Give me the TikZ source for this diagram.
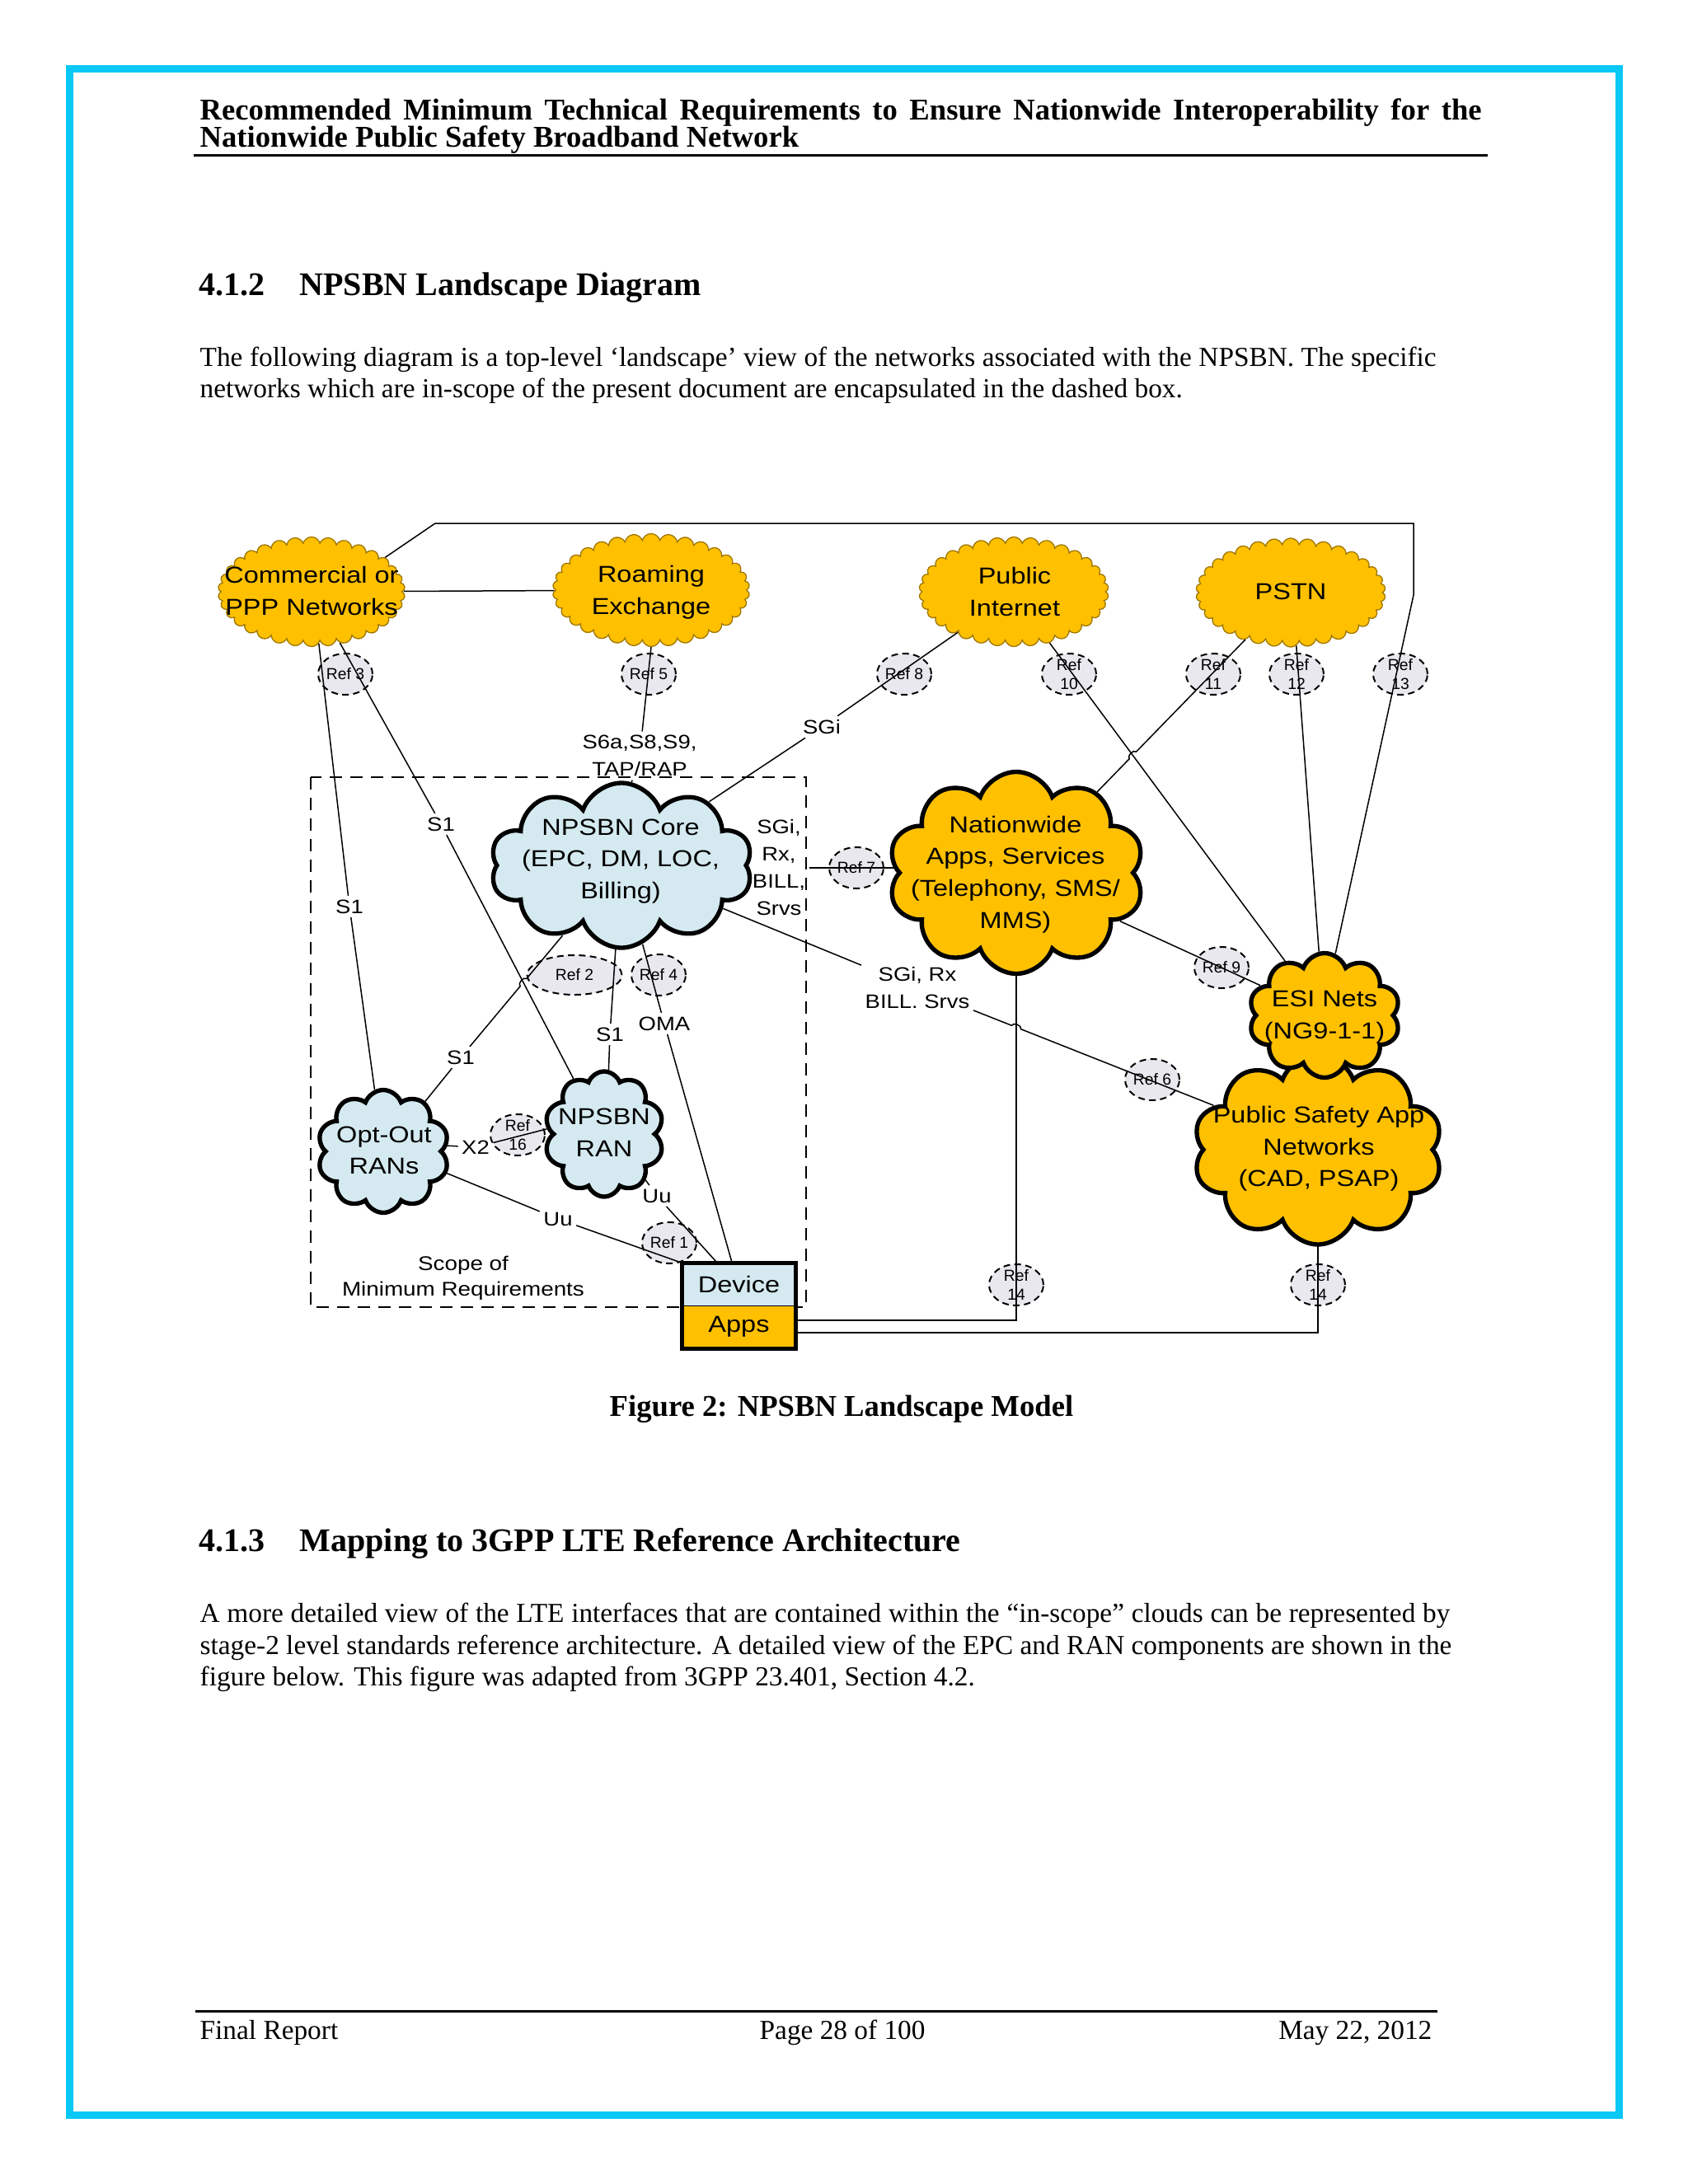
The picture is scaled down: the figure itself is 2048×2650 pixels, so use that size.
\documentclass[tikz,border=0pt]{standalone}
\usepackage{fontspec}
\setmainfont{Liberation Serif}
\newfontfamily\dgm{Liberation Sans}[FakeStretch=1.16]
\newfontfamily\dgmref{Liberation Sans}
\usetikzlibrary{shapes.symbols,shapes.geometric,calc,intersections}
\definecolor{frameblue}{RGB}{10,200,245}
\definecolor{cloudorange}{RGB}{255,192,0}
\definecolor{cloudblue}{RGB}{212,234,240}
\definecolor{refgrey}{RGB}{232,232,238}
\definecolor{scallopline}{RGB}{160,120,0}
\pgfdeclarelayer{bgl}
\pgfdeclarelayer{refl}
\pgfdeclarelayer{linel}
\pgfsetlayers{bgl,refl,linel,main}
\tikzset{
  scallop/.style={cloud, cloud puffs=34, cloud puff arc=150, cloud ignores aspect, draw=scallopline, line width=0.4pt, fill=cloudorange, inner sep=0pt},
  bigcloud/.style={cloud, cloud puffs=10, cloud puff arc=140, cloud ignores aspect, draw=black, line width=1.6pt, inner sep=0pt},
  ctext/.style={font=\dgm\fontsize{8.4}{11.6}\selectfont, align=center, inner sep=0pt},
  refnode/.style={ellipse, draw=black, dash pattern=on 2.4pt off 1.6pt, line width=0.6pt, fill=refgrey, minimum width=19.8pt, minimum height=15pt, inner xsep=0pt, inner ysep=-1.5pt, font=\dgmref\fontsize{5.8}{6.7}\selectfont, align=center},
  iflbl/.style={font=\dgm\fontsize{7.1}{9.9}\selectfont, align=center, inner sep=1.2pt},
  conn/.style={line width=0.45pt, black},
  devbox/.style={minimum width=41.1pt, inner sep=0pt, font=\dgm\fontsize{8.4}{10}\selectfont},
  txt/.style={anchor=base west, inner sep=0pt},
  scopebox/.style={line width=0.45pt, dash pattern=on 4.5pt off 3pt}
}
\begin{document}
\begin{tikzpicture}[x=0.3pt,y=-0.3pt]
\begin{pgfonlayer}{bgl}
\fill[white] (0,0) rectangle (2048,2650);
\end{pgfonlayer}
\useasboundingbox (0,0) rectangle (2048,2650);
\draw[frameblue, line width=2.7pt] (84,83) rectangle (1964,2566);

% ---------- page text ----------
\node[txt, font=\bfseries\fontsize{11}{13}\selectfont] (hd1) at (242,145) {\makebox[466.5pt][s]{Recommended Minimum Technical Requirements to Ensure Nationwide Interoperability for the}};
\node[txt, font=\bfseries\fontsize{11}{13}\selectfont] (hd2) at (242,178) {Nationwide Public Safety Broadband Network};
\draw[line width=0.9pt] (235,188) -- (1805,188);

\node[txt, font=\bfseries\fontsize{12}{14}\selectfont] (s412n) at (241,358) {4.1.2};
\node[txt, font=\bfseries\fontsize{12}{14}\selectfont] (s412t) at (363,358) {NPSBN Landscape Diagram};
\node[txt, font=\fontsize{10}{12}\selectfont] (p1a) at (242,444) {\makebox[450pt][s]{The following diagram is a top-level ‘landscape’ view of the networks associated with the NPSBN. The specific}};
\node[txt, font=\fontsize{10}{12}\selectfont] (p1b) at (242,482) {networks which are in-scope of the present document are encapsulated in the dashed box.};

\node[anchor=base, inner sep=0pt, font=\bfseries\fontsize{11}{13}\selectfont] (caption) at (1021,1718) {Figure 2: NPSBN Landscape Model};

\node[txt, font=\bfseries\fontsize{12}{14}\selectfont] (s413n) at (241,1882) {4.1.3};
\node[txt, font=\bfseries\fontsize{12}{14}\selectfont] (s413t) at (363,1882) {Mapping to 3GPP LTE Reference Architecture};
\node[txt, font=\fontsize{10}{12}\selectfont] (p2a) at (242,1968) {\makebox[455pt][s]{A more detailed view of the LTE interfaces that are contained within the “in-scope” clouds can be represented by}};
\node[txt, font=\fontsize{10}{12}\selectfont] (p2b) at (242,2007) {\makebox[455.6pt][s]{stage-2 level standards reference architecture. A detailed view of the EPC and RAN components are shown in the}};
\node[txt, font=\fontsize{10}{12}\selectfont] (p2c) at (242,2045) {figure below. This figure was adapted from 3GPP 23.401, Section 4.2.};

\draw[line width=0.9pt] (237,2440) -- (1744,2440);
\node[txt, font=\fontsize{10}{12}\selectfont] (f1) at (242,2474) {Final Report};
\node[txt, font=\fontsize{10}{12}\selectfont] (f2) at (921,2474) {Page 28 of 100};
\node[anchor=base east, inner sep=0pt, font=\fontsize{10}{12}\selectfont] (f3) at (1738,2474) {May 22, 2012};

% ---------- clouds ----------
\node[scallop, minimum width=68.1pt, minimum height=39.9pt] (comm) at (378,718) {};
\node[scallop, minimum width=71.7pt, minimum height=41.1pt] (roam) at (790,716) {};
\node[scallop, minimum width=69pt, minimum height=39.9pt] (inet) at (1230,718) {};
\node[scallop, minimum width=69pt, minimum height=39.6pt] (pstn) at (1566,719) {};
\node[ctext] (commt) at (378,717) {Commercial or\\PPP Networks};
\node[ctext] (roamt) at (790,719) {Roaming\\Exchange};
\node[ctext] (inett) at (1231,718) {Public\\Internet};
\node[ctext] (pstnt) at (1566,718) {PSTN};

\node[bigcloud, fill=cloudblue, minimum width=95.4pt, minimum height=60pt] (core) at (754,1050) {};
\node[ctext] (coret) at (753,1045) {NPSBN Core\\(EPC, DM, LOC,\\Billing)};
\node[bigcloud, fill=cloudorange, minimum width=93.3pt, minimum height=73.5pt] (nation) at (1233,1059) {};
\node[ctext] (nationt) at (1232,1061) {Nationwide\\Apps, Services\\(Telephony, SMS/\\MMS)};
\node[bigcloud, fill=cloudblue, minimum width=48pt, minimum height=44.7pt] (optout) at (465,1397) {};
\node[ctext] (optoutt) at (466,1396) {Opt-Out\\RANs};
\node[bigcloud, fill=cloudblue, minimum width=43.5pt, minimum height=45.6pt] (ran) at (733,1376) {};
\node[ctext] (rant) at (733,1374) {NPSBN\\RAN};
\node[bigcloud, fill=cloudorange, minimum width=90.9pt, minimum height=69pt] (psan) at (1599,1395) {};
\node[ctext] (psant) at (1600,1394) {Public Safety App\\Networks\\(CAD, PSAP)};
\node[bigcloud, fill=cloudorange, minimum width=55.2pt, minimum height=45.3pt] (esi) at (1607,1232) {};
\node[ctext] (esit) at (1607,1234) {ESI Nets\\(NG9-1-1)};

\node[devbox, fill=cloudblue, minimum height=15.3pt] (device) at (896.5,1558.5) {Device};
\node[devbox, fill=cloudorange, minimum height=15.6pt] (apps) at (896.5,1610) {Apps};
\draw[conn] (device.south west) -- (device.south east);
\draw[line width=1.5pt] (device.north west) rectangle (apps.south east);

% ---------- interface labels ----------
\node[iflbl] (s1a) at (424,1100) {S1};
\node[iflbl] (s1b) at (535,1000) {S1};
\node[iflbl] (s1c) at (559,1283) {S1};
\node[iflbl] (s1d) at (740,1255) {S1};
\node[iflbl] (oma) at (806,1242) {OMA};
\node[iflbl] (x2) at (577,1392) {X2};
\node[iflbl] (uu1) at (677,1479) {Uu};
\node[iflbl] (uu2) at (797,1451) {Uu};
\node[iflbl] (sgi1) at (997,882) {SGi};
\node[iflbl] (s6a) at (776,917) {S6a,S8,S9,\\TAP/RAP};
\node[iflbl] (sgi2) at (945,1053) {SGi,\\Rx,\\BILL,\\Srvs};
\node[iflbl] (sgi3) at (1113,1199) {SGi, Rx\\BILL. Srvs};
\node[font=\dgm\fontsize{7.2}{9.3}\selectfont, align=center, inner sep=0pt] (scope) at (562,1551) {Scope of\\Minimum Requirements};

% ---------- reference markers ----------
\begin{pgfonlayer}{refl}
\node[refnode] (ref3) at (419,818) {Ref 3};
\node[refnode] (ref5) at (787,818) {Ref 5};
\node[refnode] (ref8) at (1097,818) {Ref 8};
\node[refnode] (ref10) at (1297,818) {Ref\\10};
\node[refnode] (ref11) at (1472,818) {Ref\\11};
\node[refnode] (ref12) at (1573,818) {Ref\\12};
\node[refnode] (ref13) at (1699,818) {Ref\\13};
\node[refnode] (ref7) at (1039,1053) {Ref 7};
\node[refnode, minimum width=34.5pt, minimum height=14.4pt] (ref2) at (697,1183) {Ref 2};
\node[refnode] (ref4) at (799,1183) {Ref 4};
\node[refnode] (ref9) at (1482,1174) {Ref 9};
\node[refnode] (ref6) at (1398,1310) {Ref 6};
\node[refnode] (ref16) at (628,1377) {Ref\\16};
\node[refnode] (ref1) at (812,1508) {Ref 1};
\node[refnode] (ref14a) at (1233,1559) {Ref\\14};
\node[refnode] (ref14b) at (1599,1559) {Ref\\14};
\end{pgfonlayer}

% ---------- connectors ----------
\begin{pgfonlayer}{linel}
\draw[scopebox] (377,943) rectangle (978,1586);
\coordinate (tl) at (528,635);
\coordinate (tr) at (1715,635);
\coordinate (tb) at (1715,722);
\coordinate (c14a) at (1233,1602);
\coordinate (c14b) at (1599,1617);

\draw[conn] (comm.25) -- (tl) -- (tr) -- (tb) -- (esi.80);
\draw[conn] (comm) -- (roam);
\draw[conn] (comm.-82) -- (s1a) -- (optout.98);
\draw[conn, name path=cr] (comm.-61) -- (s1b) -- (ran.119);
\draw[conn] (roam.-90) -- (s6a) -- (core.83);
\draw[conn] (core.36) -- (sgi1) -- (inet.-144);
\draw[conn] (core.center |- sgi2) -- (sgi2) -- (sgi2 -| nation.center);
\draw[conn, name path=vl] (nation.center) -- (c14a) -- (c14a -| apps.east);
\draw[conn] (psan.center) -- (c14b) -- (c14b -| apps.east);

% core -> psan with jump over vertical line
\draw[conn] (core.-23) -- (sgi3);
\path[name path=pl] (sgi3) -- (psan.157);
\path[name intersections={of=pl and vl, by=jthree}];
\draw[conn] (sgi3) -- ($(jthree)!1.8pt!(sgi3)$) to[bend left=90] ($(jthree)!1.8pt!(psan.157)$) -- (psan.157);

% internet -> esi, nationwide -> pstn with jump
\draw[conn, name path=ie] (inet.-55) -- (esi.126);
\path[name path=np] (nation.45) -- (pstn.-134);
\path[name intersections={of=np and ie, by=jone}];
\draw[conn] (nation.45) -- ($(jone)!1.8pt!(nation.45)$) to[bend left=90] ($(jone)!1.8pt!(pstn.-134)$) -- (pstn.-134);

\draw[conn] (pstn.-84) -- (esi.95);
\draw[conn] (nation.-25) -- (esi.155);

% core -> opt-out with jump
\path[name path=co] (core.-130) -- (s1c);
\path[name intersections={of=co and cr, by=jtwo}];
\draw[conn] (core.-130) -- ($(jtwo)!1.8pt!(core.-130)$) to[bend right=90] ($(jtwo)!1.8pt!(s1c)$) -- (s1c) -- (optout.50);

\draw[conn] (core.-94) -- (s1d) -- (ran.86);
\draw[conn] (core.-75) -- (oma) -- ($(device.north west)!0.44!(device.north east)$);
\draw[conn] (optout.5) -- (x2) -- (ran.175);
\draw[conn] (optout.-19) -- (uu1) -- (device.north west);
\draw[conn] (ran.-48) -- (uu2) -- ($(device.north west)!0.31!(device.north east)$);
\end{pgfonlayer}
\end{tikzpicture}
\end{document}
